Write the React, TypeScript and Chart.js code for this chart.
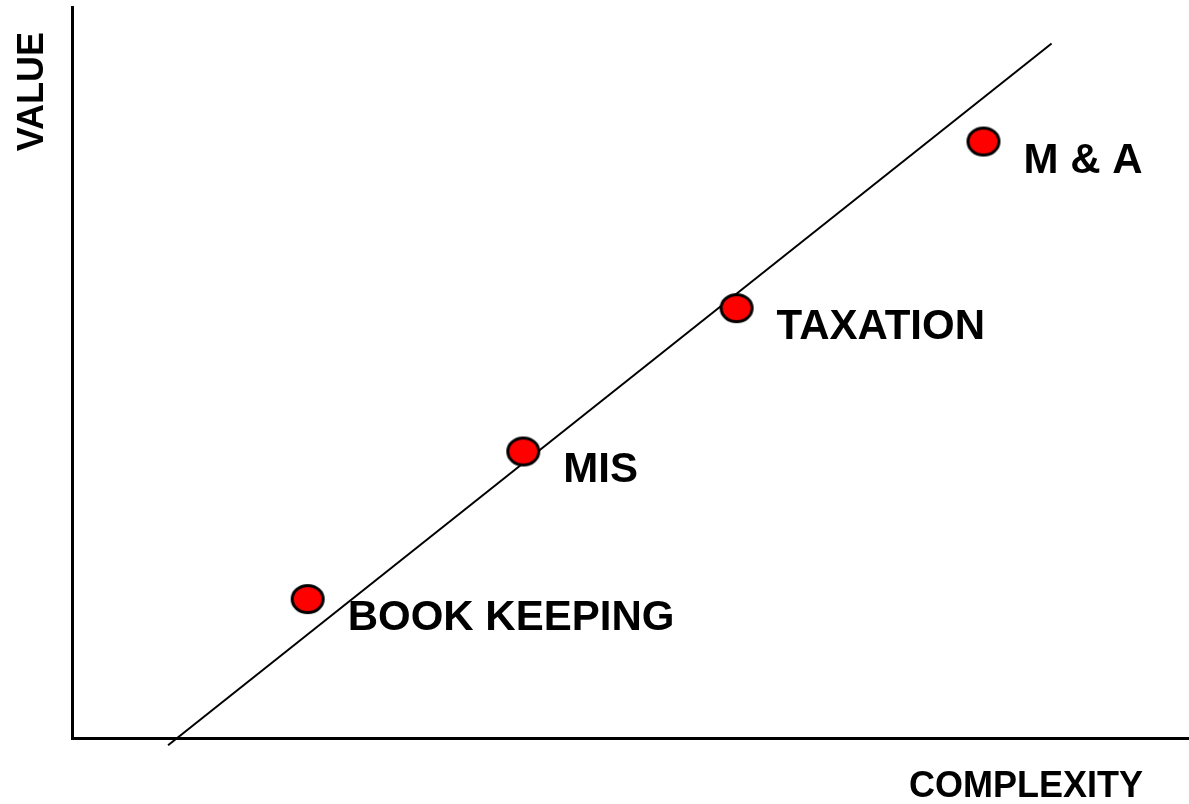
import React, { useEffect, useRef } from "react";
import { Chart, registerables } from "chart.js";

Chart.register(...registerables);

// Data
const categories = ["BOOK KEEPING", "MIS", "TAXATION", "M & A"];
const complexityValues = [21.1, 40.4, 59.5, 81.6];
const valueValues = [19.0, 39.2, 58.8, 81.6];
const trendX = [8.6, 87.7];
const trendY = [-1.0, 95.0];
const xTitle = "COMPLEXITY";
const yTitle = "VALUE";

const FONT = '"Liberation Sans", Arial, sans-serif';

function makeEllipse(): HTMLCanvasElement {
  const c = document.createElement("canvas");
  c.width = 38;
  c.height = 34;
  const ctx = c.getContext("2d")!;
  ctx.beginPath();
  ctx.ellipse(19, 17, 15.5, 13.5, 0, 0, Math.PI * 2);
  ctx.fillStyle = "#ff0000";
  ctx.fill();
  ctx.lineWidth = 3;
  ctx.strokeStyle = "#000000";
  ctx.stroke();
  return c;
}

const labelPlugin = {
  id: "pointLabels",
  beforeDatasetsDraw(chart: any) {
    const ctx = chart.ctx;
    const xs = chart.scales.x;
    const ys = chart.scales.y;
    ctx.save();
    ctx.fillStyle = "#000";
    ctx.font = `bold 42px ${FONT}`;
    ctx.textAlign = "left";
    ctx.textBaseline = "alphabetic";
    categories.forEach((name, i) => {
      const px = xs.getPixelForValue(complexityValues[i]);
      const py = ys.getPixelForValue(valueValues[i]);
      ctx.fillText(name, px + 40, py + 31);
    });
    ctx.restore();
  },
  afterDraw(chart: any) {
    const ctx = chart.ctx;
    const area = chart.chartArea;
    ctx.save();
    ctx.fillStyle = "#000";
    ctx.font = `bold 36px ${FONT}`;
    ctx.textBaseline = "alphabetic";
    ctx.textAlign = "right";
    ctx.fillText(xTitle, area.right - 46, area.bottom + 59);
    ctx.translate(area.left - 29, area.top + 25);
    ctx.rotate(-Math.PI / 2);
    ctx.textAlign = "right";
    ctx.fillText(yTitle, 0, 0);
    ctx.restore();
  },
};

export default function App() {
  const ref = useRef<HTMLCanvasElement>(null);

  useEffect(() => {
    if (!ref.current) return;
    const ellipse = makeEllipse();
    const chart = new Chart(ref.current, {
      type: "scatter",
      data: {
        datasets: [
          {
            label: "Services",
            data: complexityValues.map((x, i) => ({ x, y: valueValues[i] })),
            pointStyle: ellipse as any,
            pointRadius: 16,
            order: 0,
            clip: false as any,
          },
          {
            type: "line" as any,
            label: "Trend",
            data: trendX.map((x, i) => ({ x, y: trendY[i] })),
            borderColor: "#000",
            borderWidth: 2,
            pointRadius: 0,
            showLine: true,
            fill: false,
            order: 1,
            clip: false as any,
          },
        ],
      },
      options: {
        animation: false,
        responsive: false,
        layout: { autoPadding: false, padding: { top: 7, left: 0, right: 0, bottom: 0 } },
        plugins: {
          legend: { display: false },
          tooltip: { enabled: false },
          title: { display: false },
        },
        scales: {
          x: {
            type: "linear",
            min: 0,
            max: 100,
            ticks: { display: false },
            grid: { display: false },
            border: { display: true, color: "#000", width: 3 },
            afterFit: (s: any) => {
              s.height = 66;
            },
          },
          y: {
            type: "linear",
            min: 0,
            max: 100,
            ticks: { display: false },
            grid: { display: false },
            border: { display: true, color: "#000", width: 3 },
            afterFit: (s: any) => {
              s.width = 72;
            },
          },
        },
      },
      plugins: [labelPlugin],
    });
    return () => chart.destroy();
  }, []);

  return (
    <div style={{ position: "fixed", left: 0, top: 0, width: 1189, height: 804, background: "#fff" }}>
      <canvas ref={ref} width={1189} height={804} style={{ display: "block" }} />
    </div>
  );
}
